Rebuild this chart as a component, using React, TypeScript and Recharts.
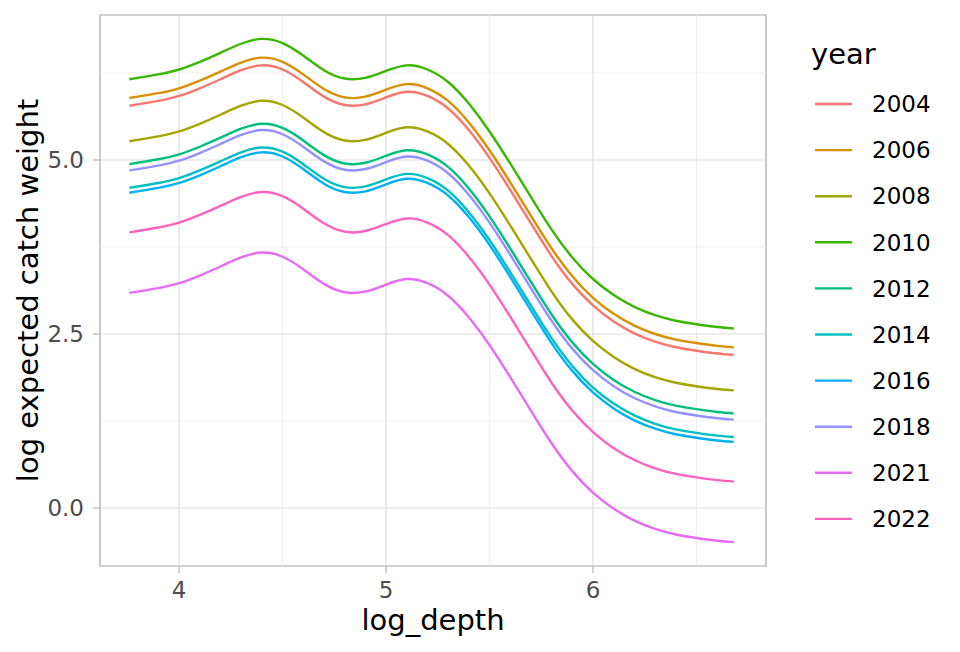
import React from 'react';
import {
  LineChart,
  Line,
  XAxis,
  YAxis,
  CartesianGrid,
  ReferenceLine,
  ReferenceArea,
  Label,
} from 'recharts';

// log_depth grid the fitted curves are sampled on
const logDepth = [
  3.76, 3.9, 4.0, 4.1, 4.2, 4.3, 4.4, 4.5, 4.6, 4.7, 4.8, 4.9, 5.0, 5.1, 5.2,
  5.3, 5.4, 5.5, 5.6, 5.7, 5.8, 5.9, 6.0, 6.1, 6.2, 6.3, 6.4, 6.5, 6.6, 6.68,
];

// log expected catch weight, one array per year
const fit2004 = [5.78, 5.85, 5.92, 6.03, 6.16, 6.29, 6.36, 6.30, 6.12, 5.91, 5.79, 5.80, 5.90, 5.98, 5.92, 5.74, 5.43, 5.03, 4.57, 4.09, 3.62, 3.22, 2.91, 2.68, 2.51, 2.39, 2.31, 2.26, 2.22, 2.20];
const fit2006 = [5.89, 5.96, 6.03, 6.14, 6.27, 6.40, 6.47, 6.41, 6.23, 6.02, 5.90, 5.91, 6.01, 6.09, 6.03, 5.85, 5.54, 5.14, 4.68, 4.20, 3.73, 3.33, 3.02, 2.79, 2.62, 2.50, 2.42, 2.37, 2.33, 2.31];
const fit2008 = [5.27, 5.34, 5.41, 5.52, 5.65, 5.78, 5.85, 5.79, 5.61, 5.40, 5.28, 5.29, 5.39, 5.47, 5.41, 5.23, 4.92, 4.52, 4.06, 3.58, 3.11, 2.71, 2.40, 2.17, 2.00, 1.88, 1.80, 1.75, 1.71, 1.69];
const fit2010 = [6.16, 6.23, 6.30, 6.41, 6.54, 6.67, 6.74, 6.68, 6.50, 6.29, 6.17, 6.18, 6.28, 6.36, 6.30, 6.12, 5.81, 5.41, 4.95, 4.47, 4.00, 3.60, 3.29, 3.06, 2.89, 2.77, 2.69, 2.64, 2.60, 2.58];
const fit2012 = [4.94, 5.01, 5.08, 5.19, 5.32, 5.45, 5.52, 5.46, 5.28, 5.07, 4.95, 4.96, 5.06, 5.14, 5.08, 4.90, 4.59, 4.19, 3.73, 3.25, 2.78, 2.38, 2.07, 1.84, 1.67, 1.55, 1.47, 1.42, 1.38, 1.36];
const fit2014 = [4.60, 4.67, 4.74, 4.85, 4.98, 5.11, 5.18, 5.12, 4.94, 4.73, 4.61, 4.62, 4.72, 4.80, 4.74, 4.56, 4.25, 3.85, 3.39, 2.91, 2.44, 2.04, 1.73, 1.50, 1.33, 1.21, 1.13, 1.08, 1.04, 1.02];
const fit2016 = [4.53, 4.60, 4.67, 4.78, 4.91, 5.04, 5.11, 5.05, 4.87, 4.66, 4.54, 4.55, 4.65, 4.73, 4.67, 4.49, 4.18, 3.78, 3.32, 2.84, 2.37, 1.97, 1.66, 1.43, 1.26, 1.14, 1.06, 1.01, 0.97, 0.95];
const fit2018 = [4.85, 4.92, 4.99, 5.10, 5.23, 5.36, 5.43, 5.37, 5.19, 4.98, 4.86, 4.87, 4.97, 5.05, 4.99, 4.81, 4.50, 4.10, 3.64, 3.16, 2.69, 2.29, 1.98, 1.75, 1.58, 1.46, 1.38, 1.33, 1.29, 1.27];
const fit2021 = [3.09, 3.16, 3.23, 3.34, 3.47, 3.60, 3.67, 3.61, 3.43, 3.22, 3.10, 3.11, 3.21, 3.29, 3.23, 3.05, 2.74, 2.34, 1.88, 1.40, 0.93, 0.53, 0.22, -0.01, -0.18, -0.30, -0.38, -0.43, -0.47, -0.49];
const fit2022 = [3.96, 4.03, 4.10, 4.21, 4.34, 4.47, 4.54, 4.48, 4.30, 4.09, 3.97, 3.98, 4.08, 4.16, 4.10, 3.92, 3.61, 3.21, 2.75, 2.27, 1.80, 1.40, 1.09, 0.86, 0.69, 0.57, 0.49, 0.44, 0.40, 0.38];

const years = ['2004', '2006', '2008', '2010', '2012', '2014', '2016', '2018', '2021', '2022'];
const fits = [fit2004, fit2006, fit2008, fit2010, fit2012, fit2014, fit2016, fit2018, fit2021, fit2022];
const yearColors = [
  '#F8766D', '#D89000', '#A3A500', '#39B600', '#00BF7D',
  '#00BFC4', '#00B0F6', '#9590FF', '#E76BF3', '#FF62BC',
];

const xTicks = [4, 5, 6];
const xMinor = [4.5, 5.5, 6.5];
const yTicks = [0, 2.5, 5];
const yMinor = [1.25, 3.75, 6.25];
const xDomain = [3.618, 6.836];
const yDomain = [-0.833, 7.083];

const rows = logDepth.map((x, i) => {
  const row: Record<string, number> = { logDepth: x };
  years.forEach((yr, k) => {
    row[yr] = fits[k][i];
  });
  return row;
});

const FONT = '"DejaVu Sans", sans-serif';

function YearLegend() {
  return (
    <svg
      width={960}
      height={652}
      style={{ position: 'absolute', left: 0, top: 0, pointerEvents: 'none' }}
    >
      <text x={811} y={64} fontSize={29} fontFamily={FONT} fill="#000">
        year
      </text>
      {years.map((yr, i) => {
        const y = 104 + i * 46.1;
        return (
          <g key={yr}>
            <line x1={815} x2={852} y1={y} y2={y} stroke={yearColors[i]} strokeWidth={2.4} />
            <text
              x={872}
              y={y}
              dy="0.36em"
              fontSize={23}
              fontFamily={FONT}
              fill="#000"
            >
              {yr}
            </text>
          </g>
        );
      })}
    </svg>
  );
}

export default function App() {
  return (
    <div style={{ position: 'absolute', left: 0, top: 0, width: 960, height: 652, background: '#fff' }}>
      <LineChart
        width={960}
        height={652}
        data={rows}
        margin={{ top: 15, right: 194, bottom: 0, left: 0 }}
        style={{ fontFamily: FONT }}
      >
        <CartesianGrid stroke="#dedede" strokeWidth={1.2} />
        {xMinor.map((v) => (
          <ReferenceLine key={`x${v}`} x={v} stroke="#ebebeb" strokeWidth={0.8} />
        ))}
        {yMinor.map((v) => (
          <ReferenceLine key={`y${v}`} y={v} stroke="#ebebeb" strokeWidth={0.8} />
        ))}
        <XAxis
          type="number"
          dataKey="logDepth"
          domain={xDomain}
          ticks={xTicks}
          allowDataOverflow
          height={86}
          axisLine={false}
          tickSize={7}
          tickMargin={9}
          tickLine={{ stroke: '#b3b3b3', strokeWidth: 1.2 }}
          tick={{ fill: '#4d4d4d', fontSize: 23, fontFamily: FONT }}
        >
          <Label
            content={() => (
              <text x={433} y={630} textAnchor="middle" fontSize={29} fontFamily={FONT} fill="#000">
                log_depth
              </text>
            )}
          />
        </XAxis>
        <YAxis
          type="number"
          domain={yDomain}
          ticks={yTicks}
          allowDataOverflow
          width={100}
          axisLine={false}
          tickSize={7}
          tickMargin={9}
          tickFormatter={(v: number) => v.toFixed(1)}
          tickLine={{ stroke: '#b3b3b3', strokeWidth: 1.2 }}
          tick={{ fill: '#4d4d4d', fontSize: 23, fontFamily: FONT }}
        >
          <Label
            content={() => (
              <text
                x={38}
                y={290.5}
                transform="rotate(-90 38 290.5)"
                textAnchor="middle"
                fontSize={29}
                fontFamily={FONT}
                fill="#000"
              >
                log expected catch weight
              </text>
            )}
          />
        </YAxis>
        {years.map((yr, i) => (
          <Line
            key={yr}
            type="natural"
            dataKey={yr}
            stroke={yearColors[i]}
            strokeWidth={2.4}
            dot={false}
            activeDot={false}
            isAnimationActive={false}
          />
        ))}
        <ReferenceArea
          x1={xDomain[0]}
          x2={xDomain[1]}
          y1={yDomain[0]}
          y2={yDomain[1]}
          fill="none"
          stroke="#b3b3b3"
          strokeWidth={1.2}
        />
      </LineChart>
      <YearLegend />
    </div>
  );
}
